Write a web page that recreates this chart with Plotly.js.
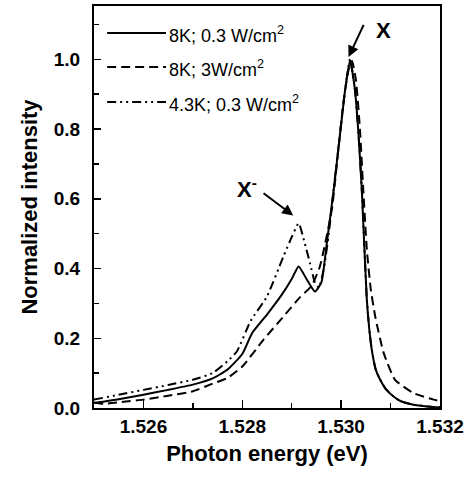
<!DOCTYPE html>
<html>
<head>
<meta charset="utf-8">
<script src="https://cdn.plot.ly/plotly-3.0.1.min.js"></script>
<style>html,body{margin:0;padding:0;background:#fff;}#chart{width:471px;height:478px;}</style>
</head>
<body>
<div id="chart"></div>
<script>
// 8K; 0.3 W/cm2 (solid)
const energySolid = [1.5250,1.5255,1.5260,1.5265,1.5270,1.5274,1.5277,1.5280,1.5282,1.5285,1.5288,1.5290,1.52914,1.5293,1.52947,1.5296,1.52971,1.52984,1.52998,1.53008,1.53018,1.53028,1.53035,1.53042,1.53047,1.53052,1.53057,1.53062,1.5307,1.53079,1.5309,1.53106,1.5312,1.53146,1.53186,1.5320];
const intensitySolid = [0.014,0.025,0.038,0.052,0.067,0.085,0.110,0.155,0.215,0.268,0.325,0.370,0.406,0.370,0.334,0.360,0.473,0.615,0.788,0.912,0.998,0.912,0.788,0.620,0.460,0.310,0.225,0.167,0.110,0.081,0.055,0.033,0.020,0.0095,0.003,0.002];

// 8K; 3W/cm2 (dashed)
const energyDashed = [1.5250,1.5252,1.5256,1.5260,1.5265,1.5270,1.5274,1.5277,1.5280,1.52843,1.52883,1.52917,1.52940,1.52957,1.52981,1.52995,1.53005,1.53015,1.53022,1.5303,1.53038,1.53045,1.53052,1.53060,1.53069,1.53086,1.53109,1.53146,1.53187,1.5320];
const intensityDashed = [0.016,0.012,0.018,0.024,0.035,0.048,0.070,0.086,0.119,0.196,0.262,0.318,0.350,0.406,0.568,0.750,0.880,0.970,0.995,0.940,0.800,0.620,0.454,0.340,0.262,0.158,0.081,0.043,0.024,0.020];

// 4.3K; 0.3 W/cm2 (dash-dot-dot)
const energyDashDot = [1.5250,1.5255,1.5260,1.5265,1.5270,1.5274,1.5277,1.52789,1.52817,1.5285,1.52883,1.5290,1.52914,1.52925,1.52937,1.52947,1.52955,1.52965,1.52975,1.52985,1.52998,1.53008,1.53018,1.53028,1.53035,1.53042,1.53047,1.53052,1.53057,1.53062,1.5307,1.53079,1.5309,1.53106,1.5312,1.53146,1.53186,1.5320];
const intensityDashDot = [0.024,0.038,0.052,0.066,0.081,0.100,0.134,0.162,0.250,0.320,0.434,0.490,0.530,0.480,0.415,0.360,0.345,0.400,0.500,0.630,0.790,0.912,1.000,0.912,0.788,0.620,0.460,0.310,0.225,0.167,0.110,0.081,0.055,0.033,0.020,0.0095,0.003,0.002];

const seriesNames = ['8K; 0.3 W/cm<sup>2</sup>','8K; 3W/cm<sup>2</sup>','4.3K; 0.3 W/cm<sup>2</sup>'];
const seriesDash = ['solid','9px,5px','9px,4px,2px,4px,2px,4px'];
const xTickVals = [1.526,1.528,1.530,1.532];
const xTickText = ['1.526','1.528','1.530','1.532'];
const yTickVals = [0.0,0.2,0.4,0.6,0.8,1.0];
const yTickText = ['0.0','0.2','0.4','0.6','0.8','1.0'];

const font = 'Liberation Sans, Arial, Helvetica, sans-serif';

const traces = [
  {x: energySolid, y: intensitySolid, name: seriesNames[0], mode: 'lines',
   line: {color: '#000', width: 2, dash: seriesDash[0], shape: 'spline', smoothing: 0.5}},
  {x: energyDashed, y: intensityDashed, name: seriesNames[1], mode: 'lines',
   line: {color: '#000', width: 2, dash: seriesDash[1], shape: 'spline', smoothing: 0.5}},
  {x: energyDashDot, y: intensityDashDot, name: seriesNames[2], mode: 'lines',
   line: {color: '#000', width: 2, dash: seriesDash[2], shape: 'spline', smoothing: 0.5}}
];

// Custom legend (sample lines + labels) in paper coordinates
const legendY = [0.933, 0.848, 0.761];
const legendShapes = seriesDash.map((d, i) => ({
  type: 'line', xref: 'paper', yref: 'paper', x0: 0.038, x1: 0.208, y0: legendY[i], y1: legendY[i],
  line: {color: '#000', width: 2, dash: d}
}));
const legendLabels = seriesNames.map((n, i) => ({
  xref: 'paper', yref: 'paper', x: 0.212, y: legendY[i] - 0.004, xanchor: 'left', yanchor: 'middle',
  text: n, showarrow: false, font: {family: font, size: 18, color: '#000'}
}));

const layout = {
  width: 471, height: 478,
  margin: {l: 94, r: 31, t: 6, b: 70},
  paper_bgcolor: '#fff', plot_bgcolor: '#fff',
  font: {family: font, color: '#000'},
  showlegend: false,
  xaxis: {
    range: [1.525, 1.532], tickvals: xTickVals, ticktext: xTickText,
    ticks: 'inside', ticklen: 8, tickwidth: 1.5, tickcolor: '#000',
    minor: {dtick: 0.001, tick0: 1.525, ticks: 'inside', ticklen: 5, tickwidth: 1.5, tickcolor: '#000'},
    showline: true, linewidth: 2, linecolor: '#000', mirror: true,
    showgrid: false, zeroline: false,
    tickfont: {family: font, size: 19, weight: 'bold', color: '#000'},
    ticklabelstandoff: 0,
    title: {text: 'Photon energy (eV)', font: {family: font, size: 22, weight: 'bold', color: '#000'}, standoff: 10}
  },
  yaxis: {
    range: [0, 1.153], tickvals: yTickVals, ticktext: yTickText,
    ticks: 'inside', ticklen: 7, tickwidth: 1.5, tickcolor: '#000',
    minor: {dtick: 0.1, tick0: 0, ticks: 'inside', ticklen: 5, tickwidth: 1.5, tickcolor: '#000'},
    showline: true, linewidth: 2, linecolor: '#000', mirror: true,
    showgrid: false, zeroline: false,
    tickfont: {family: font, size: 19, weight: 'bold', color: '#000'},
    ticklabelstandoff: 8,
    title: {text: 'Normalized intensity', font: {family: font, size: 22, weight: 'bold', color: '#000'}, standoff: 10}
  },
  shapes: legendShapes,
  annotations: legendLabels.concat([
    {x: 1.53085, y: 1.084, xref: 'x', yref: 'y', text: 'X', showarrow: false,
     font: {family: font, size: 22, weight: 'bold', color: '#000'}},
    {x: 1.53015, y: 1.007, xref: 'x', yref: 'y', ax: 1.53047, ay: 1.103, axref: 'x', ayref: 'y',
     text: '', showarrow: true, arrowhead: 2, arrowsize: 1.1, arrowwidth: 2, arrowcolor: '#000'},
    {x: 1.52810, y: 0.631, xref: 'x', yref: 'y', text: 'X<sup>-</sup>', showarrow: false,
     font: {family: font, size: 22, weight: 'bold', color: '#000'}},
    {x: 1.52903, y: 0.552, xref: 'x', yref: 'y', ax: 1.52840, ay: 0.619, axref: 'x', ayref: 'y',
     text: '', showarrow: true, arrowhead: 2, arrowsize: 1.1, arrowwidth: 2, arrowcolor: '#000'}
  ])
};

Plotly.newPlot('chart', traces, layout, {displayModeBar: false, staticPlot: true});
</script>
</body>
</html>
